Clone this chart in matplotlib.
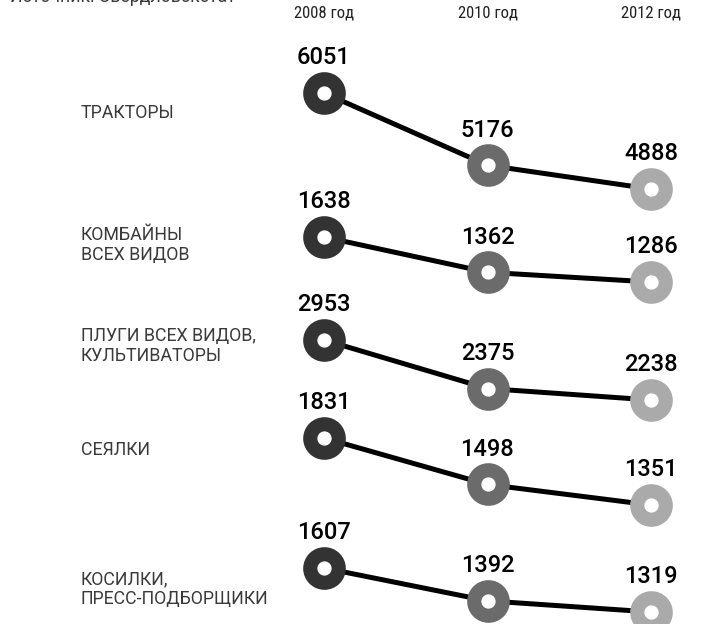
import matplotlib
matplotlib.use("Agg")
import matplotlib.pyplot as plt
from matplotlib.transforms import blended_transform_factory
from matplotlib import font_manager

plt.rcParams['font.family'] = ['Roboto', 'DejaVu Sans']

years = ["2008 год", "2010 год", "2012 год"]
categories = ["ТРАКТОРЫ", "КОМБАЙНЫ\nВСЕХ ВИДОВ", "ПЛУГИ ВСЕХ ВИДОВ,\nКУЛЬТИВАТОРЫ",
              "СЕЯЛКИ", "КОСИЛКИ,\nПРЕСС-ПОДБОРЩИКИ"]
tractors = [6051, 5176, 4888]
combines = [1638, 1362, 1286]
plows = [2953, 2375, 2238]
seeders = [1831, 1498, 1351]
mowers = [1607, 1392, 1319]
series = [tractors, combines, plows, seeders, mowers]
source = "Источник: Свердловскстат"

names = {f.name for f in font_manager.fontManager.ttflist}
narrow = [n for n in ["Roboto Condensed", "Liberation Sans Narrow"] if n in names]
year_family = (narrow + ["Roboto", "DejaVu Sans"])

# layout (pixels): y of max-value marker, y of min-value marker, y of category label
W, H = 711, 624
row_px = [(93, 189), (237, 282), (340, 400), (438, 505), (568, 612)]
label_px = [113, 245, 346, 450, 589]
x_left_px, x_right_px = 324, 651
colors = ["#333333", "#6b6b6b", "#aaaaaa"]

fig = plt.figure(figsize=(W / 100, H / 100), dpi=100)
fig.patch.set_facecolor("white")

axes = []
for vals, (ytop, ybot), lab, lpy in zip(series, row_px, categories, label_px):
    ax = fig.add_axes([x_left_px / W, 1 - ybot / H, (x_right_px - x_left_px) / W, (ybot - ytop) / H])
    ax.set_xlim(0, 2)
    ax.set_ylim(min(vals), max(vals))
    ax.axis("off")
    xs = list(range(len(vals)))
    ax.plot(xs, vals, color="black", lw=3.6, zorder=1, clip_on=False, solid_capstyle="butt")
    for x, v, c in zip(xs, vals, colors):
        ax.plot([x], [v], marker="o", ms=20.5, mew=10.2, mfc="white", mec=c,
                zorder=2, clip_on=False)
        ax.annotate(f"{v}", (x, v), xytext=(0, 17), textcoords="offset points",
                    ha="center", va="bottom", fontsize=17, fontweight="medium",
                    color="black", annotation_clip=False)
    fig.text(81 / W, 1 - lpy / H, lab, ha="left", va="center", fontsize=12.8,
             fontweight="normal", color="#3a3a3a", linespacing=1.15)
    axes.append(ax)

tr = blended_transform_factory(axes[0].transData, fig.transFigure)
for i, y in enumerate(years):
    axes[0].text(i, 1 - 13 / H, y, transform=tr, ha="center", va="center",
                 fontsize=12 if narrow else 10.5, family=year_family, color="#222222")

fig.text(10 / W, 1 + 2.5 / H, source, ha="left", va="center", fontsize=12.8,
         fontweight="normal", color="#3a3a3a")

fig.savefig("out.png", dpi=100, facecolor="white")
